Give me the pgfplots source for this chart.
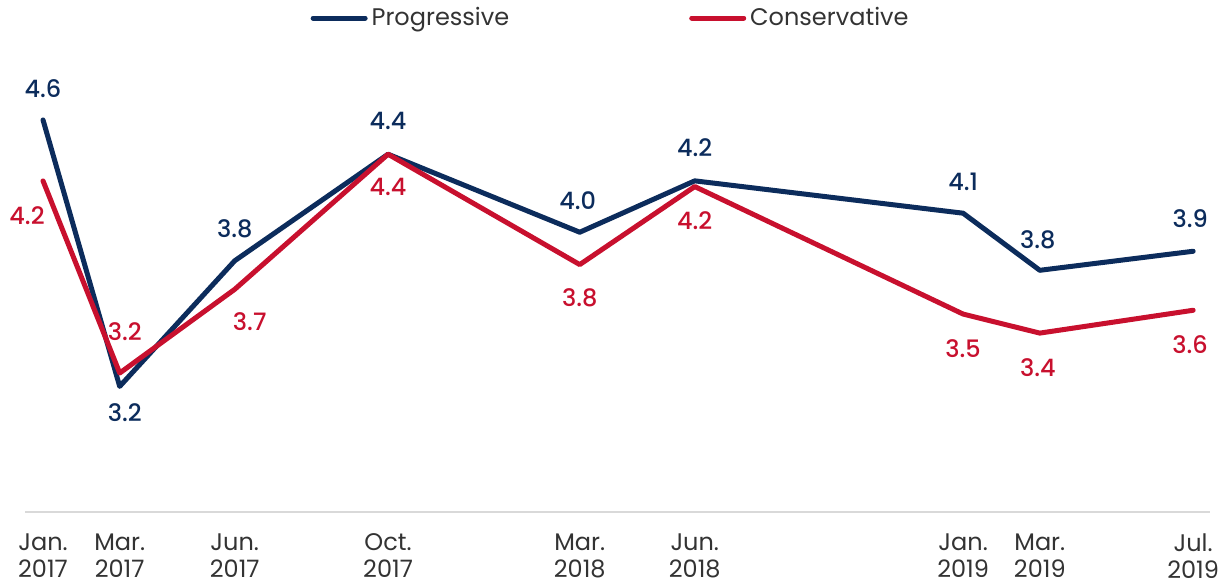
\documentclass[border=0pt]{standalone}
\usepackage{fontspec}
\setmainfont{Poppins}
\newfontfamily\medfont{Poppins Medium}
\usepackage{pgfplots}
\usepackage{pgfplotstable}
\pgfplotsset{compat=1.18}

\definecolor{prog}{HTML}{0C2C5C}
\definecolor{cons}{HTML}{C8102E}
\definecolor{txt}{HTML}{333333}
\definecolor{axisgray}{HTML}{D9D9D9}

% x = months since Jan. 2017, lab = printed value, dx/dy = label offset (pt)
\pgfplotstableread{
x  y     lab  dx    dy
0  4.58  4.6  0     15.5
2  3.18  3.2  2.5  -13
5  3.84  3.8  0     16
9  4.40  4.4  0     16.5
14 3.99  4.0  -1    16
17 4.26  4.2  0     16.5
24 4.09  4.1  0     15.5
26 3.79  3.8  -1    15.5
30 3.89  3.9  -1.5  16.5
}\progdata

\pgfplotstableread{
x  y     lab  dx    dy
0  4.26  4.2  -8   -17.5
2  3.25  3.2  2.5   20.5
5  3.69  3.7  7.5  -16
9  4.40  4.4  0    -16.5
14 3.82  3.8  0    -16.5
17 4.23  4.2  0    -17
24 3.56  3.5  0    -17.5
26 3.46  3.4  -1   -17.5
30 3.58  3.6  -1.5 -17
}\consdata

\begin{document}
\begin{tikzpicture}
\begin{axis}[
    scale only axis,
    width=592.5pt, height=236pt,
    xmin=-0.47, xmax=30.44,
    ymin=2.52, ymax=5.0,
    axis x line=bottom,
    axis y line=none,
    x axis line style={-, draw=axisgray, line width=0.8pt},
    xtick={0,2,5,9,14,17,24,26,30},
    xticklabels={Jan.\\2017, Mar.\\2017, Jun.\\2017, Oct.\\2017, Mar.\\2018, Jun.\\2018, Jan.\\2019, Mar.\\2019, Jul.\\2019},
    xticklabel style={align=center, text=txt, font=\fontsize{12}{13.5}\selectfont, yshift=-7.5pt},
    major tick length=0pt,
    legend columns=2,
    legend style={draw=none, fill=none, at={(0.495,1.0466)}, anchor=center,
        font=\fontsize{12}{13.5}\selectfont, text=txt,
        /tikz/every even column/.append style={column sep=88pt},
        inner sep=0pt},
    legend image code/.code={\draw[#1, line width=2.5pt, line cap=round] (0pt,0pt) -- (26pt,0pt);},
    clip=false,
]
\addplot[prog, line width=2.5pt, line join=round, line cap=round,
    point meta=explicit symbolic, nodes near coords,
    visualization depends on={\thisrow{dx} \as \labdx},
    visualization depends on={\thisrow{dy} \as \labdy},
    nodes near coords style={anchor=center, xshift=\labdx, yshift=\labdy,
        font=\medfont\fontsize{12}{13.5}\selectfont, text=prog}]
    table[x=x, y=y, meta=lab] {\progdata};
\addlegendentry{Progressive}
\addplot[cons, line width=2.5pt, line join=round, line cap=round,
    point meta=explicit symbolic, nodes near coords,
    visualization depends on={\thisrow{dx} \as \labdx},
    visualization depends on={\thisrow{dy} \as \labdy},
    nodes near coords style={anchor=center, xshift=\labdx, yshift=\labdy,
        font=\medfont\fontsize{12}{13.5}\selectfont, text=cons}]
    table[x=x, y=y, meta=lab] {\consdata};
\addlegendentry{Conservative}
\end{axis}
\pgfresetboundingbox
\useasboundingbox (-12.5pt,-37pt) rectangle (600pt,256pt);
\end{tikzpicture}
\end{document}
